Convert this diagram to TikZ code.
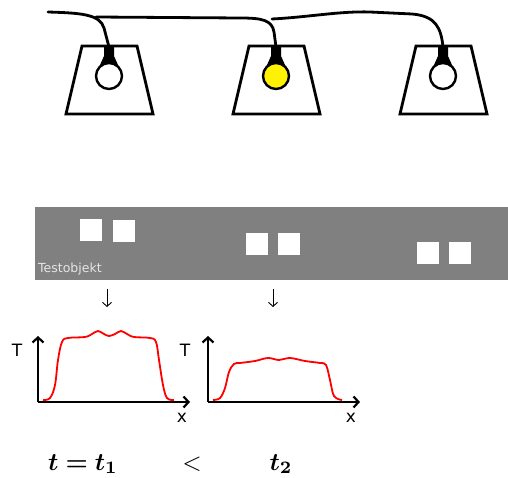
\documentclass[tikz,border=0pt]{standalone}
\usepackage{fontspec}
\usepackage{amsmath,bm}
\newfontfamily\verdana{DejaVu Sans}
\usetikzlibrary{positioning,arrows.meta}

\tikzset{
  wire/.style={line width=2.8pt, line cap=round},
  shade/.style={line width=2.8pt, line join=miter},
  axis/.style={line width=2.2pt, -{Straight Barb[length=5pt,width=11pt,line width=2.2pt]}},
  profile/.style={red, line width=1.8pt},
  sans/.style={font=\verdana\fontsize{17}{19}\selectfont},
  timelabel/.style={scale=2.5},
}

\begin{document}
\begin{tikzpicture}[x=1pt, y=-1pt, >=stealth]
  \useasboundingbox (0,0) rectangle (508,478);

  % lamps with bulbs
  \foreach \i/\x/\c in {1/109/white, 2/276/yellow, 3/443/white} {
    \draw[shade] (\x-27,46) -- (\x+28,46) -- (\x+44,114) -- (\x-43,114) -- cycle;
    \fill (\x-5,46) -- (\x+5,46) -- (\x+5,56) -- (\x+9,65) -- (\x-9,65) -- (\x-5,56) -- cycle;
    \draw[line width=2.4pt, fill=\c] (\x,76) circle (13);
    \coordinate (lamp\i) at (\x,47);
  }

  % the cable
  \coordinate (plug) at (48,12);
  \draw[wire] (plug) .. controls (80,13) and (100,14) .. (104,28) -- (lamp1);
  \draw[wire] (96,17) -- (240,18) .. controls (262,18) and (272,20) .. (274,32) -- (lamp2);
  \draw[wire] (272,19) .. controls (310,17) and (340,11) .. (370,12)
    -- (412,14) .. controls (436,16) and (441,28) .. (lamp3);

  % test object with the squares
  \fill[gray] (35,207) rectangle (508,280);
  \foreach \x/\y in {80/219, 113/220, 246/233, 278/233, 417/242, 449/242}
    \fill[white] (\x,\y) rectangle ++(22,22);
  \node[anchor=base west, inner sep=0, text=black!10, font=\verdana\fontsize{12.5}{14}\selectfont] (obj) at (38,272) {Testobjekt};

  \coordinate (a1) at (107,289);
  \coordinate (b1) at (107,307);
  \coordinate (a2) at (273,289);
  \coordinate (b2) at (273,307);
  \draw[-{Straight Barb[length=4pt,width=9pt]}, line width=0.9pt] (a1) -- (b1);
  \draw[-{Straight Barb[length=4pt,width=9pt]}, line width=0.9pt] (a2) -- (b2);

  % first profile
  \coordinate (o1) at (38,402);
  \draw[axis] (o1) -- (38,336) coordinate (y1);
  \draw[axis] (o1) -- (190,402) coordinate (x1);
  \node[sans] (T1) at (17,350) {T};
  \node[sans] (X1) at (182,418) {x};
  \draw[profile] plot[smooth, tension=0.6] coordinates {(43,400) (50,398) (55,385) (58,360) (62,342) (68,338) (85,337) (92,334) (98,331) (104,334) (109,336) (115,334) (121,331) (127,334) (134,337) (150,338) (156,342) (159,360) (163,385) (167,398) (174,400)};

  % second profile
  \coordinate (o2) at (208,402);
  \draw[axis] (o2) -- (208,336) coordinate (y2);
  \draw[axis] (o2) -- (360,402) coordinate (x2);
  \node[sans] (T2) at (185,350) {T};
  \node[sans] (X2) at (351,418) {x};
  \draw[profile] plot[smooth, tension=0.6] coordinates {(213,400) (220,398) (225,388) (229,372) (234,364) (240,363) (255,361) (268,358) (279,360) (290,358) (305,361) (320,363) (326,365) (330,380) (334,396) (342,400)};

  % times
  \node[timelabel] (t1) at (83,464) {$\bm{t=t_1}$};
  \node[timelabel] (lt) at (192,464) {$<$};
  \node[timelabel] (t2) at (281,464) {$\bm{t_2}$};
\end{tikzpicture}
\end{document}
